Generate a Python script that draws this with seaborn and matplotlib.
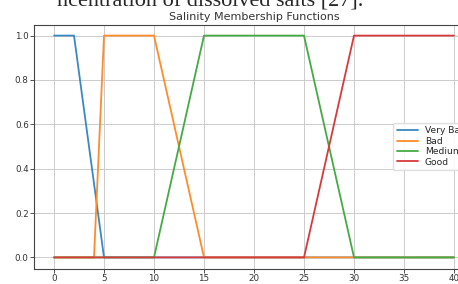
import pandas as pd
import matplotlib
matplotlib.use("Agg")
import matplotlib.pyplot as plt
import seaborn as sns

# membership function breakpoints (salinity, membership degree)
very_bad_x = [0, 2, 5, 40]
very_bad_y = [1, 1, 0, 0]
bad_x = [0, 4, 5, 10, 15, 40]
bad_y = [0, 0, 1, 1, 0, 0]
medium_x = [0, 10, 15, 25, 30, 40]
medium_y = [0, 0, 1, 1, 0, 0]
good_x = [0, 25, 30, 40]
good_y = [0, 0, 1, 1]

labels = ["Very Bad", "Bad", "Medium", "Good"]
colors = ["#3a88c4", "#ff8c2a", "#44ab44", "#d83a3a"]
xticks = [0, 5, 10, 15, 20, 25, 30, 35, 40]
yticks = [0.0, 0.2, 0.4, 0.6, 0.8, 1.0]

frames = []
for name, xs, ys in zip(labels,
                        [very_bad_x, bad_x, medium_x, good_x],
                        [very_bad_y, bad_y, medium_y, good_y]):
    frames.append(pd.DataFrame({"salinity": xs, "membership": ys, "set": name}))
data = pd.concat(frames, ignore_index=True)

sns.set_style("ticks")
plt.rcParams["font.family"] = ["DejaVu Sans"]

fig = plt.figure(figsize=(4.58, 2.84), dpi=100)
ax = fig.add_axes([34 / 458, 15.5 / 284, 440 / 458, 244 / 284])

for name, color in zip(labels, colors):
    part = data[data["set"] == name]
    ax.plot(part["salinity"], part["membership"], color=color, lw=1.3, label=name)

ax.set_xticks(xticks)
ax.set_yticks(yticks)
ax.set_xticklabels([str(t) for t in xticks])
ax.set_yticklabels([f"{t:.1f}" for t in yticks])
ax.tick_params(labelsize=6.3, colors="#333333", length=2.8, width=0.6)
ax.tick_params(axis="x", pad=1)
ax.tick_params(axis="y", pad=1)
ax.grid(True, color="#cccccc", lw=0.7)
for s in ax.spines.values():
    s.set_color("#444444")
    s.set_linewidth(0.8)
ax.set_title("Salinity Membership Functions", fontsize=8, color="#333333", pad=3)
ax.legend(loc="center right", fontsize=6.6, frameon=True, framealpha=0.9,
          edgecolor="#dddddd", handlelength=2.3, handletextpad=0.75,
          borderpad=0.4, labelspacing=0.15)

fig.text(363 / 458, 1 - 6 / 284, "ncentration of dissolved salts [27].",
         family="Liberation Serif", fontsize=16, ha="right", va="baseline")

fig.savefig("out.png", dpi=100)
